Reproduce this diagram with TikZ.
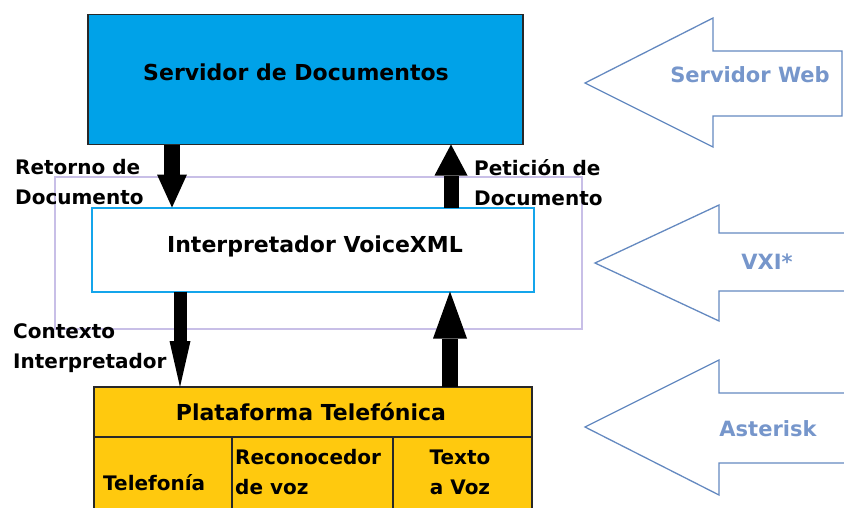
\documentclass[tikz,border=0pt]{standalone}
\usepackage{fontspec}
\setmainfont{DejaVu Sans}
\usetikzlibrary{arrows.meta}
\definecolor{srvblue}{RGB}{0,162,232}
\definecolor{interpblue}{RGB}{20,165,235}
\definecolor{platyellow}{RGB}{255,201,14}
\definecolor{lavend}{RGB}{200,191,231}
\definecolor{vxblue}{RGB}{100,137,192}
\definecolor{vxtext}{RGB}{118,150,203}
\definecolor{darkedge}{RGB}{40,40,40}
\begin{document}
\begin{tikzpicture}[x=1pt,y=-1pt,
  main/.style={font=\fontsize{22}{26}\selectfont\bfseries, inner sep=0},
  lbl/.style={font=\fontsize{20}{30}\selectfont\bfseries, align=left, inner sep=0},
  side/.style={font=\fontsize{21}{25}\selectfont\bfseries, text=vxtext, inner sep=0},
  block/.style={draw=darkedge, line width=1.5pt, inner sep=0, outer sep=0},
  layer/.style={draw=vxblue, line width=1.3pt, line join=miter},
]
\path[use as bounding box] (0,0) rectangle (844,507);
\clip (0,0) rectangle (844,507);

% lavender frame
\draw[lavend, line width=1.5pt] (55,177) rectangle (582,329);

% blocks
\node[block, fill=srvblue, minimum width=435pt, minimum height=130pt] (srv) at (305.5,79.5) {};
\node[main] (srvtext) at (296,72) {Servidor de Documentos};

\node[fill=white, inner sep=0, outer sep=0, minimum width=442pt, minimum height=84pt] (interp) at (312.5,249.5) {};
\draw[draw=interpblue, line width=2pt] (interp.south west) rectangle (interp.north east);
\node[main] (interptext) at (315,246) {Interpretador VoiceXML};

\node[block, fill=platyellow, minimum width=438pt, minimum height=143pt] (plat) at (313,458.5) {};
\node[main] (plattitle) at (311,412) {Plataforma Telefónica};
\coordinate (rowl) at (93,437);
\draw[darkedge, line width=1.5pt] (rowl) -- (plat.east |- rowl);
\coordinate (col1) at (232,437);
\coordinate (col2) at (393,437);
\draw[darkedge, line width=1.5pt] (col1) -- (plat.south -| col1);
\draw[darkedge, line width=1.5pt] (col2) -- (plat.south -| col2);

\node[lbl, anchor=west] (telef) at (103,483) {Telefonía};
\node[lbl, anchor=west] (recon) at (235,472) {Reconocedor\\de voz};
\node[lbl, align=center] (tts) at (460,472) {Texto\\a Voz};

% flow arrows
\coordinate (xa) at (172,0);
\coordinate (xb) at (451,0);
\coordinate (xc) at (180,0);
\coordinate (xd) at (450,0);
\draw[line width=16pt, -{Triangle[width=30pt, length=33pt, line width=0pt]}] (srv.south -| xa) -- (interp.north -| xa);
\draw[line width=15pt, -{Triangle[width=33pt, length=31pt, line width=0pt]}] (interp.north -| xb) -- (srv.south -| xb);
\draw[line width=13pt, -{Triangle[width=21pt, length=46pt, line width=0pt]}] (interp.south -| xc) -- (plat.north -| xc);
\draw[line width=16pt, -{Triangle[width=34pt, length=47pt, line width=0pt]}] (plat.north -| xd) -- (interp.south -| xd);

% labels
\node[lbl, anchor=west] (retorno) at (15,182) {Retorno de\\Documento};
\node[lbl, anchor=west] (peticion) at (474,183) {Petición de\\Documento};
\node[lbl, anchor=west] (contexto) at (13,348) {Contexto\\Interpretador};

% layer arrows
\draw[layer] (585,83) -- (713,18) -- (713,51) -- (842,51) -- (842,116) -- (713,116) -- (713,147) -- cycle;
\node[side] (web) at (750,75) {Servidor Web};
\draw[layer] (850,233) -- (719,233) -- (719,205) -- (595,263) -- (719,321) -- (719,291) -- (850,291);
\node[side] (vxi) at (767,262) {VXI*};
\draw[layer] (850,393) -- (719,393) -- (719,360) -- (585,427) -- (719,495) -- (719,463) -- (850,463);
\node[side] (ast) at (768,429) {Asterisk};
\end{tikzpicture}
\end{document}
